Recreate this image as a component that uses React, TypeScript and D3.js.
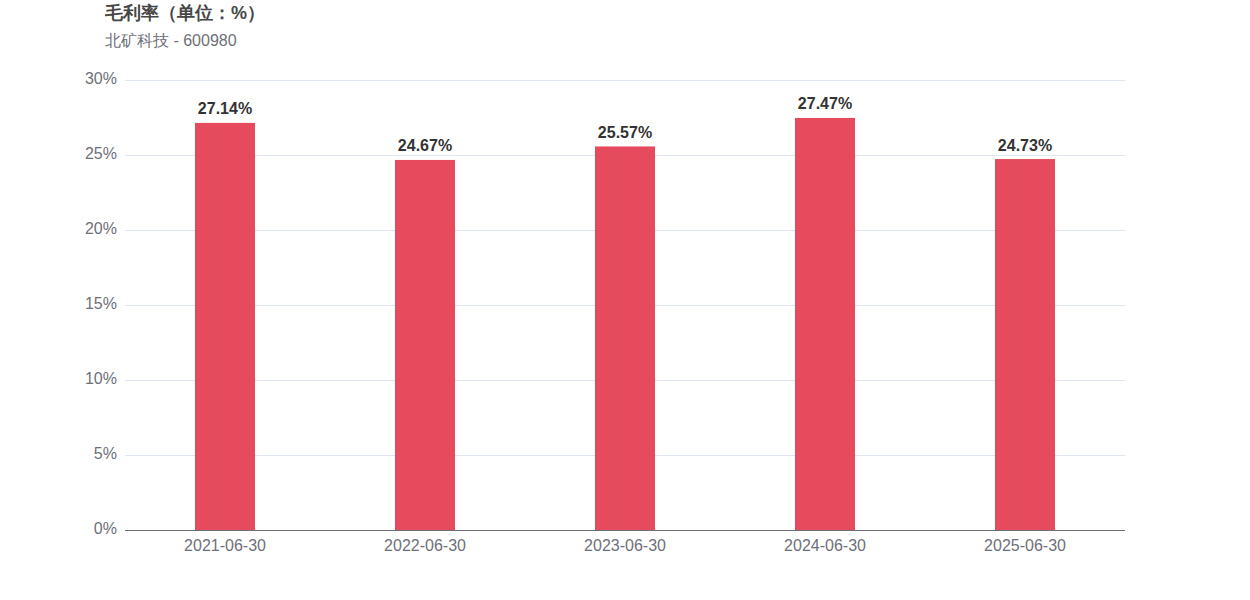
import React from "react";
import * as d3 from "d3";

const categories = ["2021-06-30", "2022-06-30", "2023-06-30", "2024-06-30", "2025-06-30"];
const values = [27.14, 24.67, 25.57, 27.47, 24.73];
const yTicks = [0, 5, 10, 15, 20, 25, 30];
const titleText = "毛利率（单位：%）";
const subtitleText = "北矿科技 - 600980";

const W = 1250;
const H = 600;
const left = 125;
const right = 1125;
const top = 80;
const bottom = 530;
const FONT = "Arial, 'Microsoft YaHei', sans-serif";

export default function App() {
  const x = d3.scaleBand<string>().domain(categories).range([left, right]);
  const y = d3.scaleLinear().domain([0, 30]).range([bottom, top]);
  const barW = 60;
  return (
    <svg width={W} height={H} style={{ position: "absolute", left: 0, top: 0 }} fontFamily={FONT}>
      <rect x={0} y={0} width={W} height={H} fill="#fff" />
      <text x={105} y={19} fontSize={18} fontWeight="bold" fill="#464646">{titleText}</text>
      <text x={105} y={46} fontSize={16} fill="#6e7079">{subtitleText}</text>
      {yTicks.map((t) => (
        <g key={t}>
          {t !== 0 && (
            <line x1={left} x2={right} y1={y(t) + 0.5} y2={y(t) + 0.5} stroke="#e0e6f1" strokeWidth={1} />
          )}
          <text x={117} y={y(t) + 4} textAnchor="end" fontSize={16} fill="#6e7079">
            {t}%
          </text>
        </g>
      ))}
      {categories.map((c, i) => {
        const cx = (x(c) as number) + x.bandwidth() / 2;
        const yt = y(values[i]);
        return (
          <g key={c}>
            <rect x={cx - barW / 2} y={yt} width={barW} height={bottom - yt} fill="#e54b5d" />
            <text x={cx} y={yt - 8.5} textAnchor="middle" fontSize={16} fontWeight="bold" fill="#333">
              {values[i].toFixed(2)}%
            </text>
            <text x={cx} y={551} textAnchor="middle" fontSize={16} fill="#6e7079">{c}</text>
          </g>
        );
      })}
      <line x1={left} x2={right} y1={bottom + 0.5} y2={bottom + 0.5} stroke="#6e7079" strokeWidth={1} />
    </svg>
  );
}
